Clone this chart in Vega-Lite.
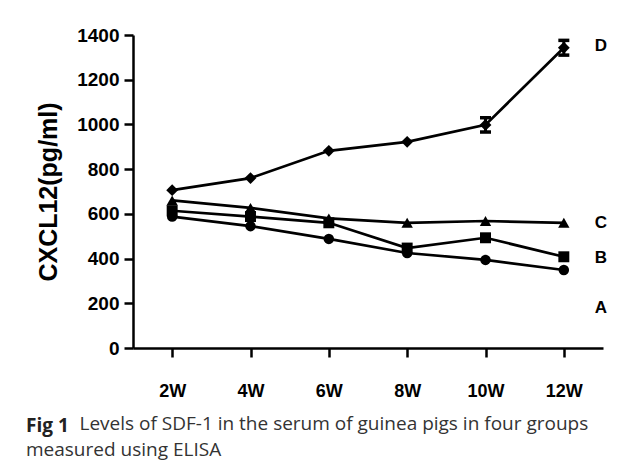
{
  "$schema": "https://vega.github.io/schema/vega-lite/v6.json",
  "width": 470,
  "height": 313,
  "autosize": {"type": "none"},
  "padding": {"left": 133, "top": 35, "right": 26, "bottom": 119},
  "background": "white",
  "config": {"view": {"stroke": null}, "font": "Liberation Sans"},
  "title": {
    "text": "Fig 1",
    "subtitle": "measured using ELISA",
    "orient": "bottom",
    "anchor": "start",
    "frame": "group",
    "dx": -107,
    "offset": -16,
    "font": "Open Sans",
    "fontSize": 19,
    "fontWeight": "bold",
    "color": "#222222",
    "subtitleFont": "Open Sans",
    "subtitleFontSize": 19,
    "subtitleFontWeight": "normal",
    "subtitleColor": "#333333",
    "subtitlePadding": 5
  },
  "data": {
    "values": [
      {"group": "D", "week": "2W", "value": 706, "err": 5},
      {"group": "D", "week": "4W", "value": 760, "err": 5},
      {"group": "D", "week": "6W", "value": 882, "err": 5},
      {"group": "D", "week": "8W", "value": 922, "err": 5},
      {"group": "D", "week": "10W", "value": 998, "err": 32},
      {"group": "D", "week": "12W", "value": 1343, "err": 33},
      {"group": "C", "week": "2W", "value": 660, "err": 5},
      {"group": "C", "week": "4W", "value": 627, "err": 5},
      {"group": "C", "week": "6W", "value": 580, "err": 5},
      {"group": "C", "week": "8W", "value": 560, "err": 5},
      {"group": "C", "week": "10W", "value": 568, "err": 5},
      {"group": "C", "week": "12W", "value": 560, "err": 5},
      {"group": "B", "week": "2W", "value": 614, "err": 5},
      {"group": "B", "week": "4W", "value": 588, "err": 5},
      {"group": "B", "week": "6W", "value": 560, "err": 5},
      {"group": "B", "week": "8W", "value": 447, "err": 5},
      {"group": "B", "week": "10W", "value": 493, "err": 5},
      {"group": "B", "week": "12W", "value": 408, "err": 5},
      {"group": "A", "week": "2W", "value": 588, "err": 5},
      {"group": "A", "week": "4W", "value": 545, "err": 5},
      {"group": "A", "week": "6W", "value": 488, "err": 5},
      {"group": "A", "week": "8W", "value": 425, "err": 5},
      {"group": "A", "week": "10W", "value": 394, "err": 5},
      {"group": "A", "week": "12W", "value": 349, "err": 5}
    ]
  },
  "encoding": {
    "x": {
      "field": "week",
      "type": "ordinal",
      "sort": ["2W", "4W", "6W", "8W", "10W", "12W"],
      "scale": {"type": "point", "padding": 0.5},
      "axis": {
        "title": "Levels of SDF-1 in the serum of guinea pigs in four groups",
        "titleX": -54,
        "titleY": 81,
        "titleAlign": "left",
        "titleBaseline": "alphabetic",
        "titleFont": "Open Sans",
        "titleFontWeight": "normal",
        "titleFontSize": 19,
        "titleColor": "#333333",
        "labelAngle": 0,
        "labelFont": "Liberation Sans",
        "labelFontSize": 18,
        "labelFontWeight": "bold",
        "labelColor": "black",
        "labelPadding": 25,
        "tickSize": 9,
        "tickWidth": 2.5,
        "tickColor": "black",
        "domainColor": "black",
        "domainWidth": 2.5,
        "grid": false
      }
    }
  },
  "layer": [
    {
      "mark": {"type": "line", "color": "black", "strokeWidth": 2.7},
      "encoding": {
        "y": {
          "field": "value",
          "type": "quantitative",
          "title": "CXCL12(pg/ml)",
          "scale": {"domain": [0, 1400], "nice": false},
          "axis": {
            "titleFont": "Liberation Sans",
            "titleFontSize": 25,
            "titleFontWeight": "bold",
            "titleColor": "black",
            "titlePadding": 15,
            "values": [0, 200, 400, 600, 800, 1000, 1200, 1400],
            "format": "d",
            "labelFont": "Liberation Sans",
            "labelFontSize": 19,
            "labelFontWeight": "bold",
            "labelColor": "black",
            "labelPadding": 5,
            "tickSize": 9,
            "tickWidth": 2.5,
            "tickColor": "black",
            "domainColor": "black",
            "domainWidth": 2.5,
            "grid": false
          }
        },
        "detail": {"field": "group"}
      }
    },
    {
      "transform": [{"filter": "datum.err > 10"}],
      "mark": {
        "type": "errorbar",
        "color": "black",
        "opacity": 1,
        "ticks": {"size": 11, "thickness": 3.5, "color": "black", "opacity": 1},
        "rule": {"strokeWidth": 3, "color": "black", "opacity": 1}
      },
      "encoding": {
        "y": {"field": "value", "type": "quantitative", "title": "CXCL12(pg/ml)"},
        "yError": {"field": "err"},
        "detail": {"field": "group"}
      }
    },
    {
      "mark": {"type": "point", "filled": true, "color": "black", "opacity": 1},
      "encoding": {
        "y": {"field": "value", "type": "quantitative", "title": "CXCL12(pg/ml)"},
        "shape": {
          "field": "group",
          "type": "nominal",
          "scale": {"domain": ["A", "B", "C", "D"], "range": ["circle", "square", "triangle-up", "diamond"]},
          "legend": null
        },
        "size": {
          "field": "group",
          "type": "nominal",
          "scale": {"domain": ["A", "B", "C", "D"], "range": [110, 140, 200, 140]},
          "legend": null
        }
      }
    },
    {
      "data": {
        "values": [
          {"label": "D", "week": "12W", "pos": 1350},
          {"label": "C", "week": "12W", "pos": 560},
          {"label": "B", "week": "12W", "pos": 403},
          {"label": "A", "week": "12W", "pos": 180}
        ]
      },
      "mark": {"type": "text", "dx": 37, "font": "Liberation Sans", "fontSize": 17, "fontWeight": "bold", "color": "black", "baseline": "middle", "align": "center"},
      "encoding": {
        "y": {"field": "pos", "type": "quantitative", "title": "CXCL12(pg/ml)"},
        "text": {"field": "label"}
      }
    }
  ]
}
